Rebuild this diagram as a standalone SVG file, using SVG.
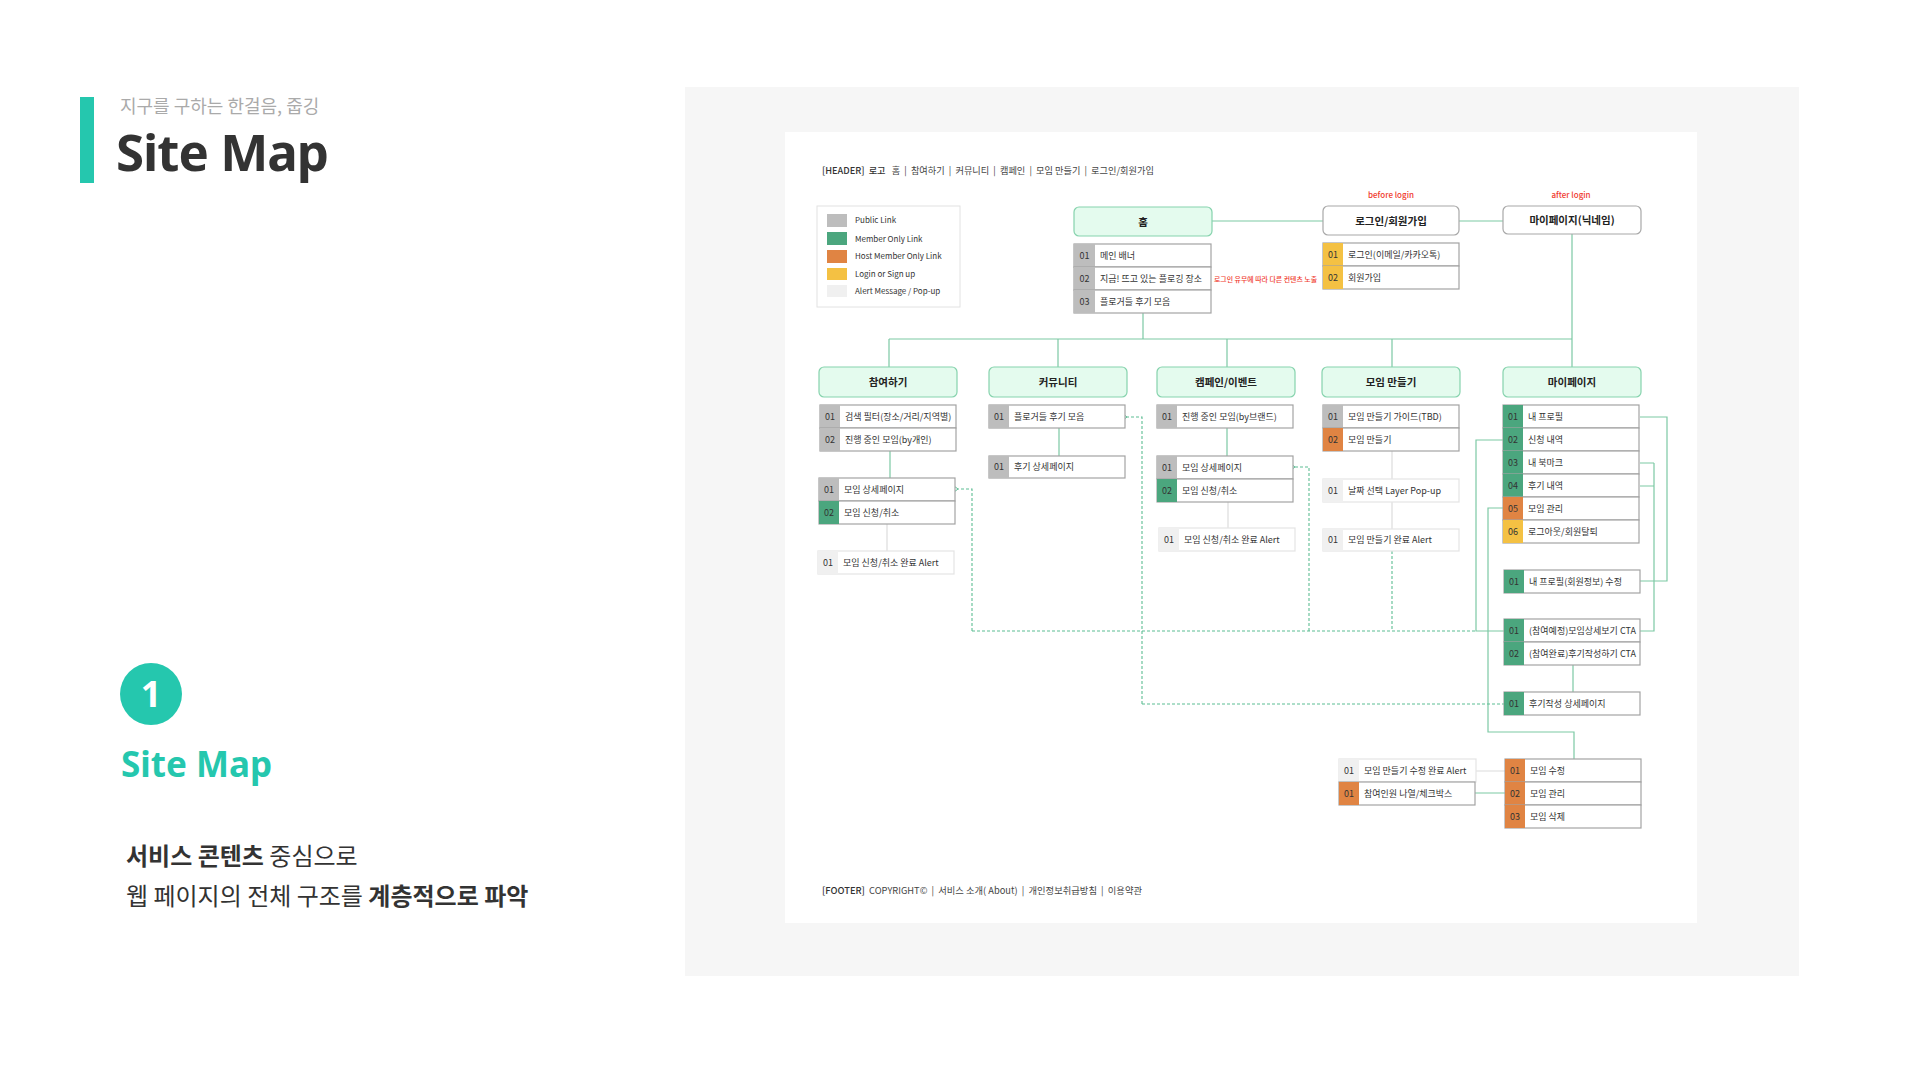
<svg xmlns="http://www.w3.org/2000/svg" width="1920" height="1080" viewBox="0 0 1920 1080">
<style>
.kr{font-family:"Noto Sans CJK KR","Noto Sans",sans-serif}
.lat{font-family:"Noto Sans","Noto Sans CJK KR",sans-serif}
.lt{font-family:"Noto Sans CJK KR","Noto Sans",sans-serif;font-size:9px;fill:#333}
.num{text-anchor:middle}
.lbl{font-family:"Noto Sans CJK KR","Noto Sans",sans-serif;font-size:10.5px;font-weight:700;fill:#222;text-anchor:middle}
.cat{fill:#e4fbee;stroke:#86d3ad;stroke-width:1.2}
.top{fill:#fff;stroke:#a8a8a8;stroke-width:1.2}
.rb{fill:#fff;stroke:#a3a3a3;stroke-width:1.2}
.ra{fill:#fff;stroke:#e4e4e4;stroke-width:1.2}
.g{fill:#bdbdbd}.m{fill:#4ba67e}.h{fill:#e08443}.y{fill:#f4c143}.a{fill:#f0f0f0}
.c{fill:none;stroke:#7cc9a4;stroke-width:1.2}
.cl{fill:none;stroke:#dcdcdc;stroke-width:1.2}
.d{fill:none;stroke:#5cbd93;stroke-width:1.1;stroke-dasharray:3 2}
.red{font-family:"Noto Sans CJK KR","Noto Sans",sans-serif;fill:#f03a2e;font-weight:500}
</style>
<defs>
<marker id="arr" markerUnits="userSpaceOnUse" markerWidth="8" markerHeight="8" refX="1" refY="4" orient="auto-start-reverse" viewBox="0 0 8 8">
<path d="M5,1 L1,4 L5,7" fill="none" stroke="#5cbd93" stroke-width="1"/>
</marker>
</defs>
<rect width="1920" height="1080" fill="#fff"/>
<!-- left title -->
<rect x="80" y="97" width="14" height="86" fill="#25c7ae"/>
<text class="kr" x="120" y="113" font-size="18" fill="#aaa">지구를 구하는 한걸음, 줍깅</text>
<text class="lat" x="116" y="171" font-size="51" font-weight="700" fill="#333" letter-spacing="-1">Site Map</text>
<circle cx="151" cy="694" r="31" fill="#25c7ae"/>
<text class="lat" x="151" y="707" font-size="36" font-weight="700" fill="#fff" text-anchor="middle">1</text>
<text class="lat" x="121" y="777" font-size="35" font-weight="700" fill="#25c7ae">Site Map</text>
<text class="kr" x="126" y="865" font-size="24" fill="#333"><tspan font-weight="700">서비스 콘텐츠</tspan> 중심으로</text>
<text class="kr" x="126" y="905" font-size="24" fill="#333">웹 페이지의 전체 구조를 <tspan font-weight="700">계층적으로 파악</tspan></text>
<!-- panel -->
<rect x="685" y="87" width="1114" height="889" fill="#f6f6f6"/>
<rect x="785" y="132" width="912" height="791" fill="#fff"/>
<text class="kr" x="822" y="174" font-size="9.2" fill="#444" xml:space="preserve"><tspan font-weight="500" fill="#333">[HEADER]  로고</tspan>   홈  |  참여하기  |  커뮤니티  |  캠페인  |  모임 만들기  |  로그인/회원가입</text>
<text class="kr" x="822" y="894" font-size="9.3" fill="#444" xml:space="preserve"><tspan font-weight="500" fill="#333">[FOOTER]</tspan>  COPYRIGHT©  |  서비스 소개( About)  |  개인정보취급방침  |  이용약관</text>
<!-- legend -->
<g id="legend">
<rect x="817" y="206" width="143" height="101" fill="#fff" stroke="#e2e2e2" stroke-width="1"/>
<rect x="827" y="214" width="20" height="13" class="g"/>
<rect x="827" y="232" width="20" height="13" class="m"/>
<rect x="827" y="250" width="20" height="13" class="h"/>
<rect x="827" y="268" width="20" height="12" class="y"/>
<rect x="827" y="285" width="20" height="12" class="a"/>
<text class="kr" x="855" y="223" font-size="8" fill="#333">Public Link</text>
<text class="kr" x="855" y="242" font-size="8" fill="#333">Member Only Link</text>
<text class="kr" x="855" y="259" font-size="8" fill="#333">Host Member Only Link</text>
<text class="kr" x="855" y="277" font-size="8" fill="#333">Login or Sign up</text>
<text class="kr" x="855" y="294" font-size="8" fill="#333">Alert Message / Pop-up</text>
</g>
<!-- connectors -->
<g id="connectors">
<path class="c" d="M1212 221H1323M1459 221H1503M1572 234V339M889 339H1572M1143 313V339M889 339V367M1058 339V367M1227 339V367M1392 339V367M1572 339V367"/>
<path class="c" d="M890 451V478M1059 428V456M1227 428V456"/>
<path class="cl" d="M887 524V551M1228 502V528M1392 451V479M1392 502V529M1476 771H1505"/>
<path class="c" d="M1640 417H1667V581H1640M1640 463H1654M1640 486H1654M1654 463V631H1640M1503 440H1476V631H1504M1503 508H1488V732H1574V759M1573 665V692M1475 793H1505"/>
<path class="d" d="M972 631V489H958" marker-end="url(#arr)"/>
<path class="d" d="M1142 704V417H1127" marker-end="url(#arr)"/>
<path class="d" d="M1309 631V467H1295" marker-end="url(#arr)"/>
<path class="d" d="M1392 551V631M972 631H1476M1142 704H1504"/>
</g>
<!-- top nodes -->
<g id="n-home">
<rect class="cat" x="1074" y="207" width="138" height="29" rx="5"/>
<text class="lbl" x="1143" y="225.5">홈</text>
</g>
<g id="n-home-list">
<rect class="rb" x="1074" y="244" width="137" height="23"/><rect class="g" x="1074" y="244" width="21" height="23"/>
<text class="lt num" x="1084.5" y="258.5">01</text><text class="lt" x="1100" y="258.5">메인 배너</text>
<rect class="rb" x="1074" y="267" width="137" height="23"/><rect class="g" x="1074" y="267" width="21" height="23"/>
<text class="lt num" x="1084.5" y="281.5">02</text><text class="lt" x="1100" y="281.5">지금! 뜨고 있는 플로깅 장소</text>
<rect class="rb" x="1074" y="290" width="137" height="23"/><rect class="g" x="1074" y="290" width="21" height="23"/>
<text class="lt num" x="1084.5" y="304.5">03</text><text class="lt" x="1100" y="304.5">플로거들 후기 모음</text>
</g>
<text class="red" x="1214" y="281.5" font-size="6.5" textLength="103" lengthAdjust="spacingAndGlyphs">로그인 유무에 따라 다른 컨텐츠 노출</text>
<g id="n-login">
<text class="red" x="1391" y="198" font-size="8" text-anchor="middle">before login</text>
<rect class="top" x="1323" y="206" width="136" height="29" rx="5"/>
<text class="lbl" x="1391" y="224.5">로그인/회원가입</text>
</g>
<g id="n-login-list">
<rect class="rb" x="1323" y="243" width="136" height="23"/><rect class="y" x="1323" y="243" width="20" height="23"/>
<text class="lt num" x="1333" y="257.5">01</text><text class="lt" x="1348" y="257.5">로그인(이메일/카카오톡)</text>
<rect class="rb" x="1323" y="266" width="136" height="23"/><rect class="y" x="1323" y="266" width="20" height="23"/>
<text class="lt num" x="1333" y="280.5">02</text><text class="lt" x="1348" y="280.5">회원가입</text>
</g>
<g id="n-mypage-top">
<text class="red" x="1571" y="198" font-size="8" text-anchor="middle">after login</text>
<rect class="top" x="1503" y="206" width="138" height="28" rx="5"/>
<text class="lbl" x="1572" y="224">마이페이지(닉네임)</text>
</g>
<!-- categories -->
<g id="n-join">
<rect class="cat" x="819" y="367" width="138" height="30" rx="5"/>
<text class="lbl" x="888" y="386">참여하기</text>
</g>
<g id="n-join-list1">
<rect class="rb" x="820" y="405" width="136" height="23"/><rect class="g" x="820" y="405" width="20" height="23"/>
<text class="lt num" x="830" y="419.5">01</text><text class="lt" x="845" y="419.5">검색 필터(장소/거리/지역별)</text>
<rect class="rb" x="820" y="428" width="136" height="23"/><rect class="g" x="820" y="428" width="20" height="23"/>
<text class="lt num" x="830" y="442.5">02</text><text class="lt" x="845" y="442.5">진행 중인 모임(by개인)</text>
</g>
<g id="n-join-list2">
<rect class="rb" x="819" y="478" width="136" height="23"/><rect class="g" x="819" y="478" width="20" height="23"/>
<text class="lt num" x="829" y="492.5">01</text><text class="lt" x="844" y="492.5">모임 상세페이지</text>
<rect class="rb" x="819" y="501" width="136" height="23"/><rect class="m" x="819" y="501" width="20" height="23"/>
<text class="lt num" x="829" y="515.5">02</text><text class="lt" x="844" y="515.5">모임 신청/취소</text>
</g>
<g id="n-join-alert">
<rect class="ra" x="818" y="551" width="136" height="23"/><rect class="a" x="818" y="551" width="20" height="23"/>
<text class="lt num" x="828" y="565.5">01</text><text class="lt" x="843" y="565.5">모임 신청/취소 완료 Alert</text>
</g>
<g id="n-comm">
<rect class="cat" x="989" y="367" width="138" height="30" rx="5"/>
<text class="lbl" x="1058" y="386">커뮤니티</text>
</g>
<g id="n-comm-list">
<rect class="rb" x="989" y="405" width="136" height="23"/><rect class="g" x="989" y="405" width="20" height="23"/>
<text class="lt num" x="999" y="419.5">01</text><text class="lt" x="1014" y="419.5">플로거들 후기 모음</text>
</g>
<g id="n-comm-detail">
<rect class="rb" x="989" y="456" width="136" height="22"/><rect class="g" x="989" y="456" width="20" height="22"/>
<text class="lt num" x="999" y="470">01</text><text class="lt" x="1014" y="470">후기 상세페이지</text>
</g>
<g id="n-camp">
<rect class="cat" x="1157" y="367" width="138" height="30" rx="5"/>
<text class="lbl" x="1226" y="386">캠페인/이벤트</text>
</g>
<g id="n-camp-list1">
<rect class="rb" x="1157" y="405" width="136" height="23"/><rect class="g" x="1157" y="405" width="20" height="23"/>
<text class="lt num" x="1167" y="419.5">01</text><text class="lt" x="1182" y="419.5">진행 중인 모임(by브랜드)</text>
</g>
<g id="n-camp-list2">
<rect class="rb" x="1157" y="456" width="136" height="23"/><rect class="g" x="1157" y="456" width="20" height="23"/>
<text class="lt num" x="1167" y="470.5">01</text><text class="lt" x="1182" y="470.5">모임 상세페이지</text>
<rect class="rb" x="1157" y="479" width="136" height="23"/><rect class="m" x="1157" y="479" width="20" height="23"/>
<text class="lt num" x="1167" y="493.5">02</text><text class="lt" x="1182" y="493.5">모임 신청/취소</text>
</g>
<g id="n-camp-alert">
<rect class="ra" x="1159" y="528" width="136" height="23"/><rect class="a" x="1159" y="528" width="20" height="23"/>
<text class="lt num" x="1169" y="542.5">01</text><text class="lt" x="1184" y="542.5">모임 신청/취소 완료 Alert</text>
</g>
<g id="n-make">
<rect class="cat" x="1322" y="367" width="138" height="30" rx="5"/>
<text class="lbl" x="1391" y="386">모임 만들기</text>
</g>
<g id="n-make-list">
<rect class="rb" x="1323" y="405" width="136" height="23"/><rect class="g" x="1323" y="405" width="20" height="23"/>
<text class="lt num" x="1333" y="419.5">01</text><text class="lt" x="1348" y="419.5">모임 만들기 가이드(TBD)</text>
<rect class="rb" x="1323" y="428" width="136" height="23"/><rect class="h" x="1323" y="428" width="20" height="23"/>
<text class="lt num" x="1333" y="442.5">02</text><text class="lt" x="1348" y="442.5">모임 만들기</text>
</g>
<g id="n-make-popup">
<rect class="ra" x="1323" y="479" width="136" height="23"/><rect class="a" x="1323" y="479" width="20" height="23"/>
<text class="lt num" x="1333" y="493.5">01</text><text class="lt" x="1348" y="493.5">날짜 선택 Layer Pop-up</text>
</g>
<g id="n-make-alert">
<rect class="ra" x="1323" y="529" width="136" height="22"/><rect class="a" x="1323" y="529" width="20" height="22"/>
<text class="lt num" x="1333" y="543">01</text><text class="lt" x="1348" y="543">모임 만들기 완료 Alert</text>
</g>
<g id="n-my">
<rect class="cat" x="1503" y="367" width="138" height="30" rx="5"/>
<text class="lbl" x="1572" y="386">마이페이지</text>
</g>
<g id="n-my-list">
<rect class="rb" x="1503" y="405" width="136" height="23"/><rect class="m" x="1503" y="405" width="20" height="23"/>
<text class="lt num" x="1513" y="419.5">01</text><text class="lt" x="1528" y="419.5">내 프로필</text>
<rect class="rb" x="1503" y="428" width="136" height="23"/><rect class="m" x="1503" y="428" width="20" height="23"/>
<text class="lt num" x="1513" y="442.5">02</text><text class="lt" x="1528" y="442.5">신청 내역</text>
<rect class="rb" x="1503" y="451" width="136" height="23"/><rect class="m" x="1503" y="451" width="20" height="23"/>
<text class="lt num" x="1513" y="465.5">03</text><text class="lt" x="1528" y="465.5">내 북마크</text>
<rect class="rb" x="1503" y="474" width="136" height="23"/><rect class="m" x="1503" y="474" width="20" height="23"/>
<text class="lt num" x="1513" y="488.5">04</text><text class="lt" x="1528" y="488.5">후기 내역</text>
<rect class="rb" x="1503" y="497" width="136" height="23"/><rect class="h" x="1503" y="497" width="20" height="23"/>
<text class="lt num" x="1513" y="511.5">05</text><text class="lt" x="1528" y="511.5">모임 관리</text>
<rect class="rb" x="1503" y="520" width="136" height="23"/><rect class="y" x="1503" y="520" width="20" height="23"/>
<text class="lt num" x="1513" y="534.5">06</text><text class="lt" x="1528" y="534.5">로그아웃/회원탈퇴</text>
</g>
<g id="n-my-edit">
<rect class="rb" x="1504" y="570" width="136" height="23"/><rect class="m" x="1504" y="570" width="20" height="23"/>
<text class="lt num" x="1514" y="584.5">01</text><text class="lt" x="1529" y="584.5">내 프로필(회원정보) 수정</text>
</g>
<g id="n-my-cta">
<rect class="rb" x="1504" y="619" width="136" height="23"/><rect class="m" x="1504" y="619" width="20" height="23"/>
<text class="lt num" x="1514" y="633.5">01</text><text class="lt" x="1529" y="633.5">(참여예정)모임상세보기 CTA</text>
<rect class="rb" x="1504" y="642" width="136" height="23"/><rect class="m" x="1504" y="642" width="20" height="23"/>
<text class="lt num" x="1514" y="656.5">02</text><text class="lt" x="1529" y="656.5">(참여완료)후기작성하기 CTA</text>
</g>
<g id="n-my-review">
<rect class="rb" x="1504" y="692" width="136" height="23"/><rect class="m" x="1504" y="692" width="20" height="23"/>
<text class="lt num" x="1514" y="706.5">01</text><text class="lt" x="1529" y="706.5">후기작성 상세페이지</text>
</g>
<g id="n-my-manage">
<rect class="rb" x="1505" y="759" width="136" height="23"/><rect class="h" x="1505" y="759" width="20" height="23"/>
<text class="lt num" x="1515" y="773.5">01</text><text class="lt" x="1530" y="773.5">모임 수정</text>
<rect class="rb" x="1505" y="782" width="136" height="23"/><rect class="h" x="1505" y="782" width="20" height="23"/>
<text class="lt num" x="1515" y="796.5">02</text><text class="lt" x="1530" y="796.5">모임 관리</text>
<rect class="rb" x="1505" y="805" width="136" height="23"/><rect class="h" x="1505" y="805" width="20" height="23"/>
<text class="lt num" x="1515" y="819.5">03</text><text class="lt" x="1530" y="819.5">모임 삭제</text>
</g>
<g id="n-edit-alert">
<rect class="ra" x="1339" y="759" width="137" height="23"/><rect class="a" x="1339" y="759" width="20" height="23"/>
<text class="lt num" x="1349" y="773.5">01</text><text class="lt" x="1364" y="773.5">모임 만들기 수정 완료 Alert</text>
</g>
<g id="n-members">
<rect class="rb" x="1339" y="782" width="136" height="23"/><rect class="h" x="1339" y="782" width="20" height="23"/>
<text class="lt num" x="1349" y="796.5">01</text><text class="lt" x="1364" y="796.5">참여인원 나열/체크박스</text>
</g>
</svg>
